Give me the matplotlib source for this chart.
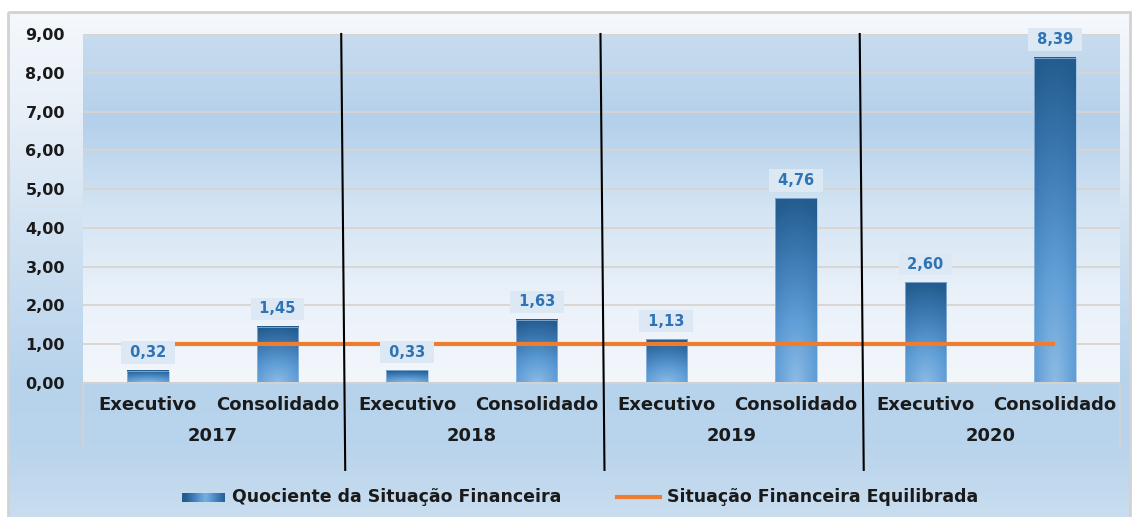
import numpy as np
import matplotlib
matplotlib.use("Agg")
import matplotlib.pyplot as plt
from matplotlib.colors import to_rgb
from matplotlib.patches import Rectangle
from matplotlib.lines import Line2D
import matplotlib.transforms as mtransforms

plt.rcParams['font.family'] = ['DejaVu Sans']
plt.rcParams['font.weight'] = 'bold'

# ---- data ----
years = ["2017", "2018", "2019", "2020"]
entities = ["Executivo", "Consolidado"]
quociente = [0.32, 1.45, 0.33, 1.63, 1.13, 4.76, 2.60, 8.39]
equilibrada = [1.00, 1.00, 1.00, 1.00, 1.00, 1.00, 1.00, 1.00]
yticks = [0, 1, 2, 3, 4, 5, 6, 7, 8, 9]
legend_labels = ["Quociente da Situação Financeira", "Situação Financeira Equilibrada"]

W, H = 1132, 517
fig = plt.figure(figsize=(W / 100, H / 100), dpi=100)
fig.patch.set_facecolor('white')


def grad(stops, n=256):
    pos = [p for p, _ in stops]
    cols = np.array([to_rgb(c) for _, c in stops])
    t = np.linspace(0, 1, n)
    return np.stack([np.interp(t, pos, cols[:, k]) for k in range(3)], axis=-1)


# ---- outer chart-area background ----
bg = fig.add_axes([0, 0, 1, 1], zorder=-10)
bg.set_xlim(0, W)
bg.set_ylim(H, 0)
bg.axis('off')
g = grad([(0.0, '#f5f8fc'), (0.18, '#e9f0f8'), (0.45, '#d0e1f1'),
          (0.73, '#b7d3ec'), (0.86, '#b9d4ec'), (1.0, '#c9ddef')])
bg.imshow(g[:, None, :], extent=[8, 1130, 517, 12], aspect='auto', origin='upper')
bg.add_patch(Rectangle((8, 12), 1122, 515, fill=False, edgecolor='#d2d2d2', lw=2))

# ---- main axes ----
ax = fig.add_axes([83 / W, 1 - 383 / H, (1120 - 83) / W, (383 - 34) / H])
ax.patch.set_alpha(0)
pg = grad([(0.0, '#f3f7fc'), (0.25, '#eaf1f9'), (0.5, '#d3e4f3'),
           (0.75, '#b4d0ea'), (1.0, '#c8dcef')])
ax.imshow(pg[:, None, :], extent=[0, 1, 0, 1], transform=ax.transAxes,
          aspect='auto', origin='lower', zorder=0)

x = np.arange(len(quociente))
bw = 0.32
bars = ax.bar(x, quociente, width=bw, color='none', edgecolor='#9dc0e4',
              lw=0.5, zorder=3)

# gradient fill for each bar (dark top, light bottom with soft highlight)
nx, ny = 60, 160
s = np.linspace(-1, 1, nx)[None, :]
t = np.linspace(0, 1, ny)[:, None]
d = np.clip(np.sqrt((0.35 * s) ** 2 + t ** 2), 0, 1)
cg = grad([(0.0, '#8cbbe4'), (0.35, '#5e9dd6'), (0.7, '#3c78b2'), (1.0, '#235c8e')], 256)
bar_img = cg[(d * 255).astype(int)]
for b in bars:
    x0, y0 = b.get_x(), b.get_y()
    ax.imshow(bar_img, extent=[x0, x0 + b.get_width(), y0, y0 + b.get_height()],
              aspect='auto', origin='lower', zorder=2.5, interpolation='bilinear')

# equilibrium line
ax.plot(x, equilibrada, color='#ed7d31', lw=3, zorder=4, solid_capstyle='butt')

# data labels
for xi, v in zip(x, quociente):
    ax.annotate(" " + f"{v:.2f}".replace('.', ',') + " ", (xi, v),
                xytext=(0, 13), textcoords='offset points',
                ha='center', va='center', fontsize=10.5, fontweight='bold',
                color='#2e74b5', zorder=6,
                bbox=dict(boxstyle='square,pad=0.25', fc='#dce8f4', ec='none'))

ax.set_xlim(-0.5, len(quociente) - 0.5)
ax.set_ylim(0, 9)
ax.set_yticks(yticks)
ax.set_yticklabels([f"{v:.2f}".replace('.', ',') for v in yticks])
ax.set_axisbelow(True)
ax.yaxis.grid(True, color='#d8d4cf', lw=1.3)
for side in ['left', 'right', 'top']:
    ax.spines[side].set_visible(False)
ax.spines['bottom'].set_color('#d2d2d2')
ax.spines['bottom'].set_linewidth(1.5)
ax.tick_params(axis='y', length=0, pad=13, labelsize=11.5, labelcolor='#1a1a1a')
ax.set_xticks(x)
ax.set_xticklabels(entities * len(years))
ax.tick_params(axis='x', length=0, pad=9, labelsize=13, labelcolor='#1a1a1a')

trans = mtransforms.blended_transform_factory(ax.transData, ax.transAxes)
for i, yr in enumerate(years):
    ax.text(2 * i + 0.5, -0.152, yr, transform=trans, ha='center', va='center',
            fontsize=13, fontweight='bold', color='#1a1a1a')

# light tick boundaries of the category axis
for xb in [-0.5, len(quociente) - 0.5]:
    ax.add_line(Line2D([xb, xb], [0, -0.19], transform=trans, color='#d2d2d2',
                       lw=1.5, clip_on=False))

# black year separators
for i in range(1, len(years)):
    xs = 2 * i - 0.5
    ax.add_line(Line2D([xs - 0.008, xs + 0.023], [1.0, -0.249], transform=trans,
                       color='black', lw=1.5, clip_on=False, zorder=7))

# ---- legend ----
lax = fig.add_axes([182 / W, 1 - 502 / H, 43 / W, 9 / H])
lax.axis('off')
ls = np.linspace(-1, 1, 80)
lg = cg[(np.clip(np.abs(ls - 0.1) * 0.9 + 0.15, 0, 1) * 255).astype(int)][None, :, :]
lax.imshow(lg, extent=[0, 1, 0, 1], aspect='auto')
fig.text(232 / W, 1 - 497 / H, legend_labels[0], ha='left', va='center',
         fontsize=12.5, fontweight='bold', color='#1a1a1a')
fig.add_artist(Line2D([617 / W, 660 / W], [1 - 497 / H, 1 - 497 / H],
                      transform=fig.transFigure, color='#ed7d31', lw=3))
fig.text(667 / W, 1 - 497 / H, legend_labels[1], ha='left', va='center',
         fontsize=12.5, fontweight='bold', color='#1a1a1a')

fig.savefig('out.png', dpi=100)
